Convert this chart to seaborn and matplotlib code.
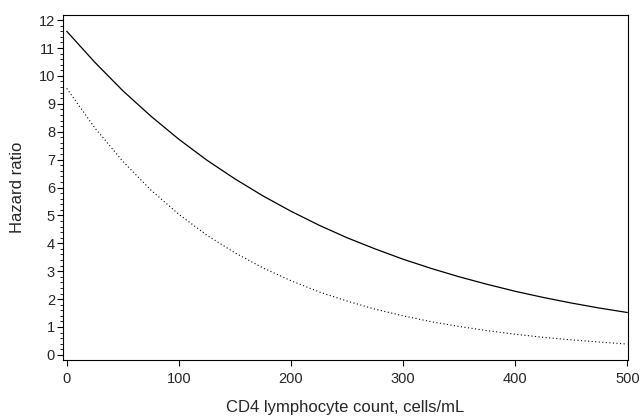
import matplotlib
import numpy as np
import pandas as pd

matplotlib.use("Agg")
import matplotlib.pyplot as plt
import seaborn as sns
from matplotlib.ticker import MultipleLocator

CD4 = [0, 25, 50, 75, 100, 125, 150, 175, 200, 225, 250, 275, 300,
       325, 350, 375, 400, 425, 450, 475, 500]
HR_SOLID = [11.6, 10.49, 9.47, 8.56, 7.73, 6.98, 6.31, 5.7, 5.15, 4.65, 4.2,
            3.8, 3.43, 3.1, 2.8, 2.53, 2.28, 2.06, 1.86, 1.68, 1.52]
HR_DOTTED = [9.55, 8.14, 6.94, 5.91, 5.04, 4.29, 3.66, 3.12, 2.66, 2.26, 1.93,
             1.64, 1.4, 1.19, 1.02, 0.87, 0.74, 0.63, 0.54, 0.46, 0.39]
X_TICKS = [0, 100, 200, 300, 400, 500]
Y_TICKS = list(range(0, 13))


def main() -> None:
    sns.set_theme(style="ticks")
    plt.rcParams["font.family"] = ["Liberation Sans", "DejaVu Sans"]

    df = pd.DataFrame({
        "cd4": CD4 + CD4,
        "hr": HR_SOLID + HR_DOTTED,
        "curve": ["solid"] * len(CD4) + ["dotted"] * len(CD4),
    })

    fig = plt.figure(figsize=(6.4, 4.19), dpi=100)
    ax = fig.add_axes([0.099, 0.141, 0.882, 0.823])

    sns.lineplot(data=df[df["curve"] == "solid"], x="cd4", y="hr",
                 color="black", linewidth=0.9, ax=ax)
    sns.lineplot(data=df[df["curve"] == "dotted"], x="cd4", y="hr",
                 color="black", linewidth=0.8, linestyle=(0, (1, 2.2)), ax=ax)

    ax.set_xlim(-3, 500.5)
    ax.set_ylim(-0.18, 12.18)
    ax.set_xticks(X_TICKS)
    ax.set_yticks(Y_TICKS)
    ax.yaxis.set_minor_locator(MultipleLocator(0.2))
    ax.tick_params(axis="both", which="major", labelsize=10.5, length=4,
                   width=0.8, color="black")
    ax.tick_params(axis="x", which="major", pad=5)
    ax.tick_params(axis="y", which="major", pad=2)
    ax.tick_params(axis="y", which="minor", length=2, width=0.6, color="black")
    ax.set_xlabel("CD4 lymphocyte count, cells/mL", fontsize=12, labelpad=10)
    ax.set_ylabel("Hazard ratio", fontsize=12, labelpad=10)

    for side in ["left", "bottom", "top", "right"]:
        ax.spines[side].set_visible(True)
        ax.spines[side].set_color("black")
        ax.spines[side].set_linewidth(0.8)

    fig.savefig("out.png", dpi=100)
    plt.close(fig)


if __name__ == "__main__":
    main()
